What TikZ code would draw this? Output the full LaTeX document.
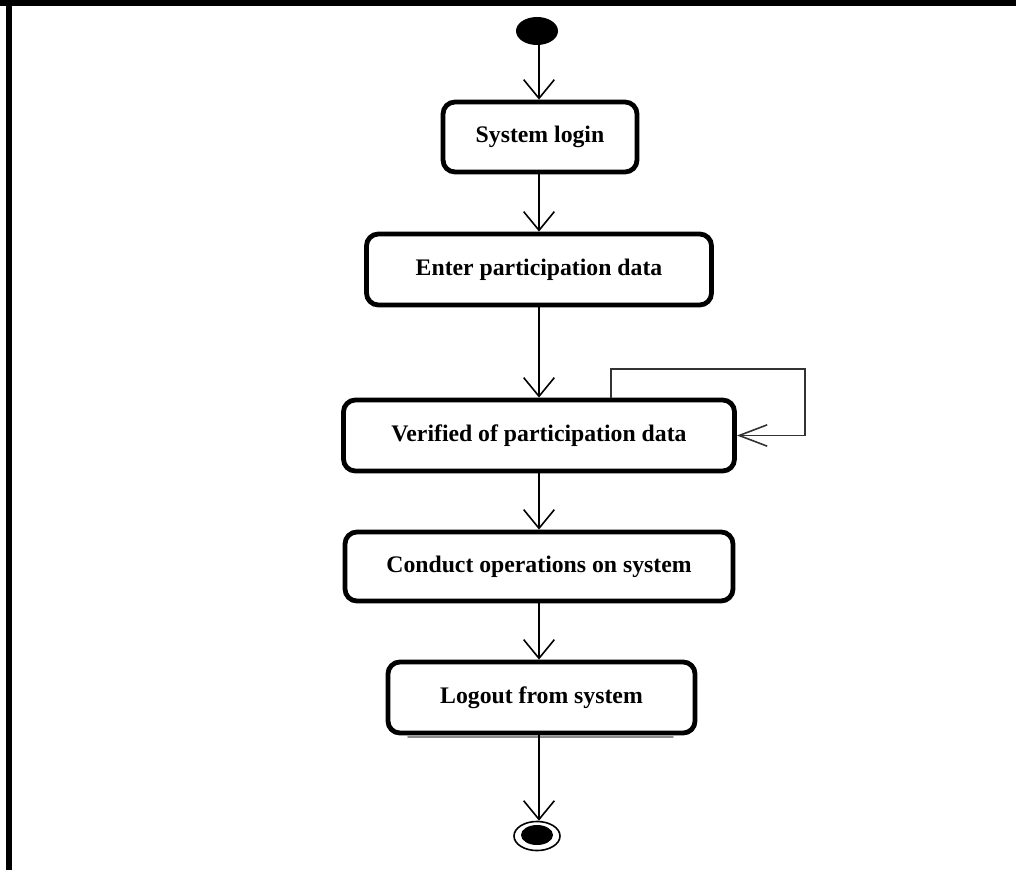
\documentclass[tikz,border=0pt]{standalone}
\usepackage{fontspec}
\setmainfont{Liberation Serif}
\usetikzlibrary{arrows.meta,shapes.geometric}
\tikzset{
  x=0.75pt, y=-0.75pt,
  act/.style={draw, line width=3.6pt, rounded corners=9pt, fill=white,
    font=\fontsize{17.8}{20}\selectfont\bfseries, inner sep=0pt},
  arr/.style={line width=1.5pt, -{Straight Barb[length=14pt,width=23pt,line width=1.2pt]}},
  looparr/.style={line width=1.2pt, draw=black!80, -{Straight Barb[length=21pt,width=16pt,line width=1.2pt]}},
  frame/.style={line width=4.5pt}
}
\begin{document}
\begin{tikzpicture}
\useasboundingbox (0,0) rectangle (1016,870);
% frame
\draw[frame] (0,3.5) -- (1016,3.5);
\draw[frame] (9,0) -- (9,870);
% start
\node[ellipse, fill=black, minimum width=31.5pt, minimum height=21pt, inner sep=0pt] (start) at (537,31) {};
% activities
\node[act, minimum width=145.5pt, minimum height=52.5pt] (b1) at (540,137) {System login};
\node[act, minimum width=258.8pt, minimum height=53.3pt] (b2) at (539,269.5) {Enter participation data};
\node[act, minimum width=293.3pt, minimum height=53.3pt] (b3) at (539,435.5) {Verified of participation data};
\node[act, minimum width=291pt, minimum height=51.8pt] (b4) at (539,566.5) {Conduct operations on system};
\node[act, minimum width=230.3pt, minimum height=53.3pt] (b5) at (541.5,697.5) {Logout from system};
% end
\node[ellipse, draw, line width=1.2pt, minimum width=34.5pt, minimum height=21.8pt, inner sep=0pt] (end) at (537,836) {};
\node[ellipse, fill=black, minimum width=24pt, minimum height=15pt, inner sep=0pt] (endin) at (537,835) {};
% shadow artifact under logout box
\coordinate (s1) at (408,737);
\coordinate (s2) at (673,737);
\draw[line width=1.2pt, draw=black!45, line cap=round] (s1) -- (s2);
% connectors
\coordinate (ax) at (539,0);
\draw[arr] (start.south -| ax) -- (b1.north -| ax);
\draw[arr] (b1.south -| ax) -- (b2.north -| ax);
\draw[arr] (b2.south -| ax) -- (b3.north -| ax);
\draw[arr] (b3.south -| ax) -- (b4.north -| ax);
\draw[arr] (b4.south -| ax) -- (b5.north -| ax);
\draw[arr] (b5.south -| ax) -- (end.north -| ax);
% self loop
\coordinate (lp) at (611,369);
\coordinate (lq) at (805,369);
\draw[looparr] (b3.north -| lp) -- (lp) -- (lq) |- (b3.east);
\end{tikzpicture}
\end{document}
